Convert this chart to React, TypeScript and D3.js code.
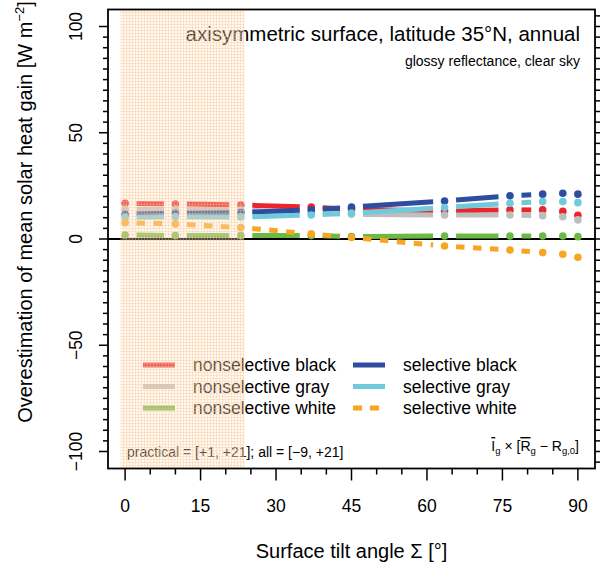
import React from 'react';
import * as d3 from 'd3';

const tilt = [0, 10, 23, 37, 45, 63.5, 76.5, 83, 87, 90];
const nonselBlack = [16.8, 16.5, 16.0, 15.0, 14.0, 13.2, 13.7, 13.7, 13.0, 11.2];
const nonselGray = [14.0, 14.0, 13.7, 12.3, 11.6, 11.3, 11.3, 11.0, 10.5, 9.0];
const nonselWhite = [1.9, 1.6, 1.6, 1.6, 1.2, 1.4, 1.4, 1.4, 1.4, 1.1];
const selBlack = [11.6, 12.1, 12.5, 13.7, 15.0, 17.9, 20.3, 21.1, 21.5, 21.1];
const selGray = [10.2, 10.5, 10.3, 11.3, 12.2, 14.8, 16.8, 17.6, 17.6, 17.1];
const selWhite = [7.7, 7.1, 5.4, 2.4, 0.7, -3.3, -5.2, -6.4, -7.2, -8.6];

const seriesNames = ['nonselective black', 'nonselective gray', 'nonselective white', 'selective black', 'selective gray', 'selective white'];
const seriesColors = ['#e8262c', '#bebebe', '#6cb946', '#2f4d9f', '#6fcadb', '#f6a623'];
const seriesValues = [nonselBlack, nonselGray, nonselWhite, selBlack, selGray, selWhite];
const seriesDashed = [false, false, false, false, false, true];

const xTicksMajor = [0, 15, 30, 45, 60, 75, 90];
const yTicksMajor = [-100, -50, 0, 50, 100];
const practicalRange = [-0.9, 23.7];

const W = 605, H = 568;
const L = 108, R = 595, T = 9.5, B = 468.5;
const FONT = "'Liberation Sans', Arial, Helvetica, sans-serif";

export default function App() {
  const x = d3.scaleLinear().domain([-3.4, 93.4]).range([L, R]);
  const y = d3.scaleLinear().domain([-108, 108]).range([B, T]);
  const gap = 11.5;
  const lw = 5;

  const segs = (vals: number[]) => {
    const out: { x1: number; y1: number; x2: number; y2: number }[] = [];
    for (let i = 0; i < tilt.length - 1; i++) {
      const x1 = x(tilt[i]), y1 = y(vals[i]), x2 = x(tilt[i + 1]), y2 = y(vals[i + 1]);
      const dx = x2 - x1, dy = y2 - y1, len = Math.hypot(dx, dy);
      if (len <= 2 * gap) continue;
      const ux = dx / len, uy = dy / len;
      out.push({ x1: x1 + ux * gap, y1: y1 + uy * gap, x2: x2 - ux * gap, y2: y2 - uy * gap });
    }
    return out;
  };

  const xMinor = d3.range(0, 91, 5);
  const yMinorL = d3.range(-100, 101, 5);
  const yMinorR = d3.range(-105, 106, 5);

  const legendRows = [0, 1, 2];
  const legendY = [365, 386.5, 408];

  return (
    <svg width={W} height={H} style={{ position: 'absolute', left: 0, top: 0, background: '#fff' }} fontFamily={FONT}>
      <defs>
        <pattern id="shade" width={3} height={3} patternUnits="userSpaceOnUse">
          <rect width={3} height={3} fill="rgba(255,232,210,0.3)" />
          <rect width={3} height={1} fill="rgba(248,190,135,0.33)" />
          <rect width={1} height={3} fill="rgba(248,190,135,0.33)" />
        </pattern>
      </defs>

      {/* zero line */}
      <line x1={L} x2={R} y1={y(0)} y2={y(0)} stroke="#000" strokeWidth={1.2} shapeRendering="crispEdges" />

      {/* series lines */}
      {seriesValues.map((vals, si) => (
        <g key={'s' + si}>
          {segs(vals).map((s, i) => (
            <line key={i} x1={s.x1} y1={s.y1} x2={s.x2} y2={s.y2} stroke={seriesColors[si]} strokeWidth={lw}
              strokeDasharray={seriesDashed[si] ? '8.5 8.5' : undefined} />
          ))}
          {vals.map((v, i) => (
            <circle key={'p' + i} cx={x(tilt[i])} cy={y(v)} r={3.8} fill={seriesColors[si]} />
          ))}
        </g>
      ))}

      {/* legend */}
      {legendRows.map((r) => (
        <g key={'l' + r}>
          <line x1={143} x2={175} y1={legendY[r]} y2={legendY[r]} stroke={seriesColors[r]} strokeWidth={lw} />
          <text x={193} y={legendY[r] + 6} fontSize={17.5}>{seriesNames[r]}</text>
          <line x1={353} x2={385} y1={legendY[r]} y2={legendY[r]} stroke={seriesColors[r + 3]} strokeWidth={lw}
            strokeDasharray={seriesDashed[r + 3] ? '9 8' : undefined} />
          <text x={403} y={legendY[r] + 6} fontSize={17.5}>{seriesNames[r + 3]}</text>
        </g>
      ))}

      {/* annotations */}
      <text x={580} y={41} fontSize={20.5} textAnchor="end">axisymmetric surface, latitude 35°N, annual</text>
      <text x={580} y={66} fontSize={14} textAnchor="end">glossy reflectance, clear sky</text>
      <text x={127} y={456.5} fontSize={14}>practical = [+1, +21]; all = [−9, +21]</text>
      <text x={579} y={451} fontSize={14} textAnchor="end">
        <tspan style={{ textDecoration: 'overline' }}>I</tspan>
        <tspan fontSize={9.5} dy={3}>g</tspan>
        <tspan dy={-3}> × [</tspan>
        <tspan style={{ textDecoration: 'overline' }}>R</tspan>
        <tspan fontSize={9.5} dy={3}>g</tspan>
        <tspan dy={-3}> − R</tspan>
        <tspan fontSize={9.5} dy={3}>g,0</tspan>
        <tspan dy={-3}>]</tspan>
      </text>

      {/* shading overlay */}
      <rect x={x(practicalRange[0])} y={T} width={x(practicalRange[1]) - x(practicalRange[0])} height={B - T} fill="url(#shade)" />

      {/* box */}
      <rect x={L} y={T} width={R - L} height={B - T} fill="none" stroke="#000" strokeWidth={1.8} />

      {/* bottom axis */}
      {xMinor.map((t) => (
        <line key={'xm' + t} x1={x(t)} x2={x(t)} y1={B} y2={B + (t % 15 === 0 ? 12 : 6)} stroke="#000" strokeWidth={1.5} />
      ))}
      {xTicksMajor.map((t) => (
        <text key={'xl' + t} x={x(t)} y={512} fontSize={17.5} textAnchor="middle">{t}</text>
      ))}

      {/* left axis */}
      {yMinorL.map((t) => (
        <line key={'yl' + t} x1={L} x2={L - (t % 50 === 0 ? 9 : 5)} y1={y(t)} y2={y(t)} stroke="#000" strokeWidth={1.5} />
      ))}
      {yTicksMajor.map((t) => (
        <text key={'ylt' + t} transform={`translate(82,${y(t)}) rotate(-90)`} fontSize={17.5} textAnchor="middle">
          {t < 0 ? '−' + Math.abs(t) : String(t)}
        </text>
      ))}

      {/* right axis */}
      {yMinorR.map((t) => (
        <line key={'yr' + t} x1={R} x2={R + 5} y1={y(t)} y2={y(t)} stroke="#000" strokeWidth={1.5} />
      ))}

      {/* axis titles */}
      <text x={351.5} y={558} fontSize={20} textAnchor="middle">Surface tilt angle Σ [°]</text>
      <text transform={`translate(32,212) rotate(-90)`} fontSize={20} textAnchor="middle">
        Overestimation of mean solar heat gain [W m<tspan fontSize={13} dy={-8}>−2</tspan><tspan dy={8}>]</tspan>
      </text>
    </svg>
  );
}
